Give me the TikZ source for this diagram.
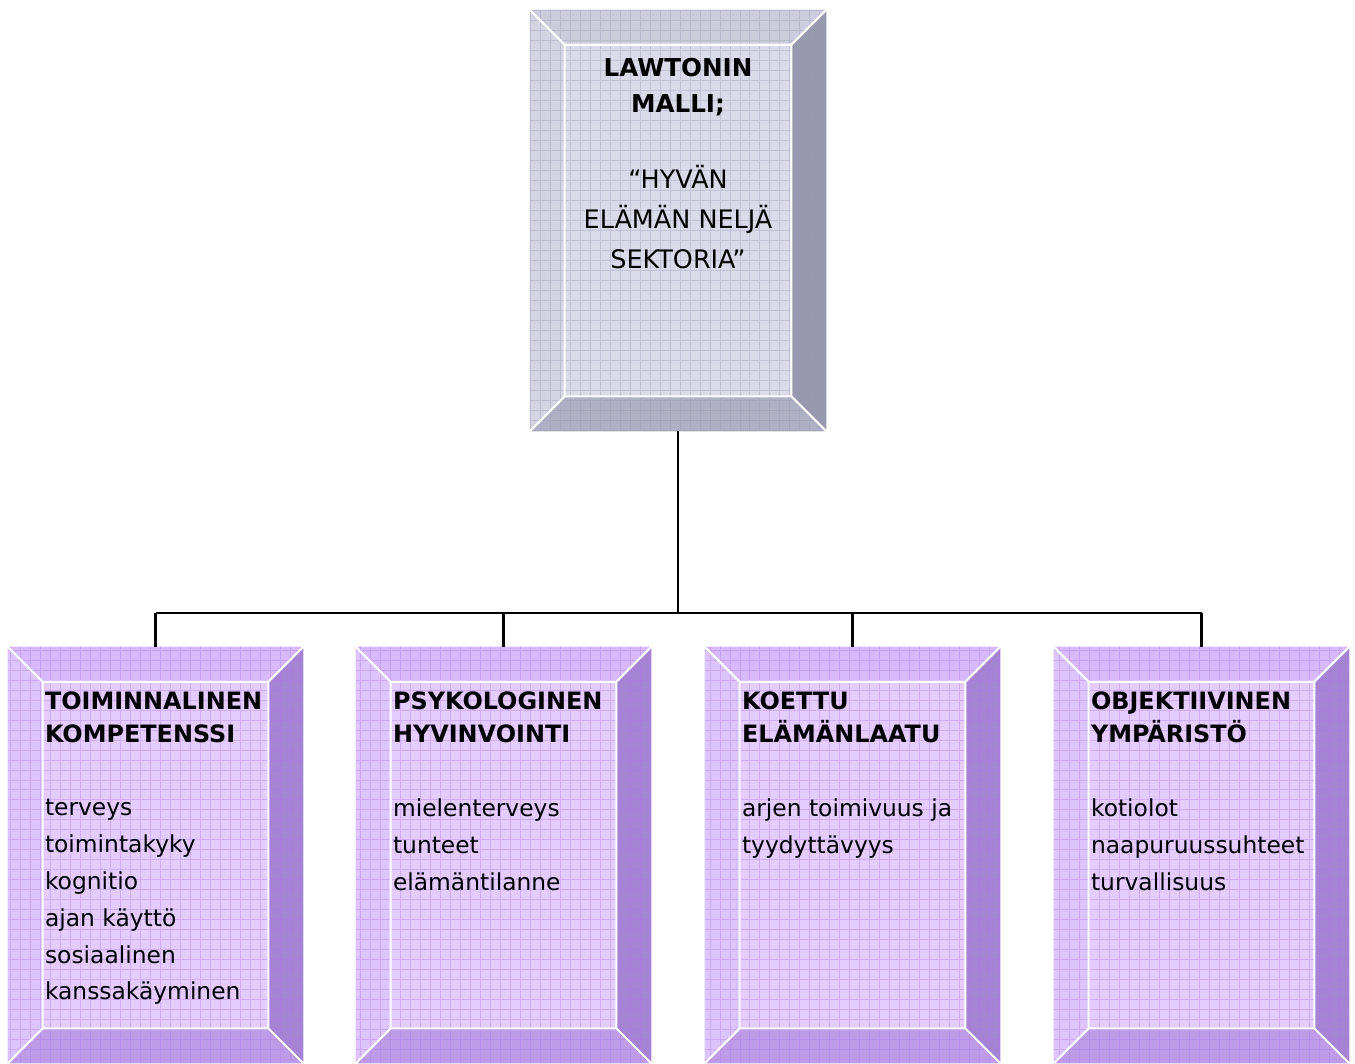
\documentclass[tikz,border=0pt]{standalone}
\usepackage{fontspec}
\setmainfont{DejaVu Sans}
\usetikzlibrary{calc}

% colours of the two kinds of bevelled boxes
\definecolor{grayface}{RGB}{218,218,232}
\definecolor{graytop}{RGB}{204,204,220}
\definecolor{grayleft}{RGB}{212,212,226}
\definecolor{grayright}{RGB}{152,152,174}
\definecolor{graybottom}{RGB}{176,176,196}
\definecolor{graygrid}{RGB}{150,150,178}
\definecolor{lilaface}{RGB}{228,204,255}
\definecolor{lilatop}{RGB}{216,186,252}
\definecolor{lilaleft}{RGB}{222,196,255}
\definecolor{lilaright}{RGB}{166,132,212}
\definecolor{lilabottom}{RGB}{190,156,232}
\definecolor{lilagrid}{RGB}{170,120,230}

\tikzset{
  panel/.style={rectangle, inner sep=0pt, draw=none},
  toppanel/.style={panel, minimum width=5.92cm, minimum height=8.42cm},
  subpanel/.style={panel, minimum width=5.9cm, minimum height=8.32cm},
  link/.style={draw=black, line width=1.2pt},
  headtext/.style={inner sep=0pt, align=left, font=\bfseries\fontsize{13.6}{18.7}\selectfont},
  bodytext/.style={inner sep=0pt, align=left, font=\fontsize{13.3}{21}\selectfont}
}

% bevelled frame round a named node: #1 node, #2 colour set
\newcommand{\bevel}[2]{%
  \coordinate (#1-onw) at (#1.north west);
  \coordinate (#1-one) at (#1.north east);
  \coordinate (#1-ose) at (#1.south east);
  \coordinate (#1-osw) at (#1.south west);
  \coordinate (#1-inw) at ($(#1.north west)+(35,35)$);
  \coordinate (#1-ine) at ($(#1.north east)+(-35,35)$);
  \coordinate (#1-ise) at ($(#1.south east)+(-35,-35)$);
  \coordinate (#1-isw) at ($(#1.south west)+(35,-35)$);
  \fill[#2top] (#1-onw) -- (#1-one) -- (#1-ine) -- (#1-inw) -- cycle;
  \fill[#2left] (#1-onw) -- (#1-inw) -- (#1-isw) -- (#1-osw) -- cycle;
  \fill[#2right] (#1-one) -- (#1-ose) -- (#1-ise) -- (#1-ine) -- cycle;
  \fill[#2bottom] (#1-osw) -- (#1-isw) -- (#1-ise) -- (#1-ose) -- cycle;
  \fill[#2face] (#1-inw) rectangle (#1-ise);
  \begin{scope}
    \clip (#1-onw) rectangle (#1-ose);
    \draw[#2grid, opacity=0.35, line width=0.4pt, step=0.2cm] (#1-onw) grid (#1-ose);
  \end{scope}
  \draw[white, line width=1.2pt] (#1-inw) rectangle (#1-ise)
    (#1-onw) -- (#1-inw) (#1-one) -- (#1-ine)
    (#1-ose) -- (#1-ise) (#1-osw) -- (#1-isw);
}

\begin{document}
\begin{tikzpicture}[x=0.02cm, y=-0.02cm]
  \useasboundingbox (0,0) rectangle (1355,1063);

  % main box
  \node[toppanel] (lawton) at (678,220.5) {};
  \bevel{lawton}{gray}
  \node[inner sep=0pt, align=center, font=\bfseries\fontsize{14}{20.4}\selectfont, anchor=north]
    (lawtonhead) at (678,58) {LAWTONIN\\MALLI;};
  \node[inner sep=0pt, align=center, font=\fontsize{14.5}{22.7}\selectfont, anchor=north]
    (lawtonbody) at (678,165) {“HYVÄN\\ELÄMÄN NELJÄ\\SEKTORIA”};

  % four sectors
  \coordinate (bus) at (678,613);
  \foreach \n/\x/\head/\body in {
      s1/155.5/{TOIMINNALINEN\\KOMPETENSSI}/{terveys\\toimintakyky\\kognitio\\ajan käyttö\\sosiaalinen\\kanssakäyminen},
      s2/503.5/{PSYKOLOGINEN\\HYVINVOINTI}/{mielenterveys\\tunteet\\elämäntilanne},
      s3/852.5/{KOETTU\\ELÄMÄNLAATU}/{arjen toimivuus ja\\tyydyttävyys},
      s4/1201.5/{OBJEKTIIVINEN\\YMPÄRISTÖ}/{kotiolot\\naapuruussuhteet\\turvallisuus}} {
    \node[subpanel] (\n) at (\x,855) {};
    \bevel{\n}{lila}
    \node[headtext, anchor=north west] (\n-head) at ($(\n.north west)+(37,45)$) {\head};
    \node[bodytext, anchor=north west] (\n-body) at ($(\n.north west)+(37,152)$) {\body};
    \draw[link] (\n.north |- bus) -- (\n.north);
  }
  \draw[link] (lawton.south) -- (bus);
  \draw[link] (s1.north |- bus) -- (s4.north |- bus);
\end{tikzpicture}
\end{document}
